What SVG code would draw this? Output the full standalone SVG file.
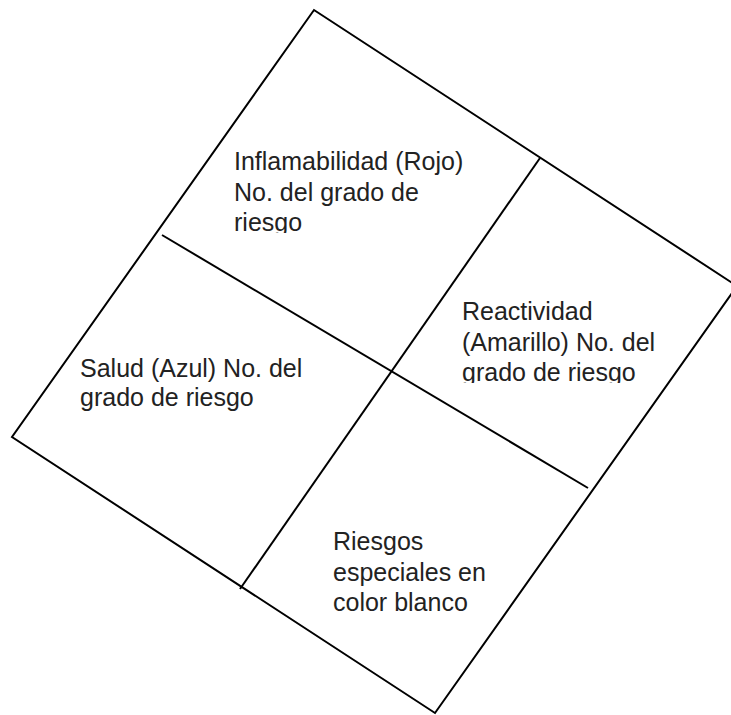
<svg xmlns="http://www.w3.org/2000/svg" width="731" height="715" viewBox="0 0 731 715">
<style>
.edge{fill:none;stroke:#000;stroke-width:2;stroke-linejoin:miter}
.lbl{font-family:"Liberation Sans",Arial,sans-serif;font-size:25px;fill:#222}
</style>
<defs>
<clipPath id="c1"><rect x="0" y="0" width="731" height="233"/></clipPath>
<clipPath id="c2"><rect x="0" y="0" width="731" height="383"/></clipPath>
</defs>
<rect width="731" height="715" fill="#fff"/>
<g id="connectors">
<polygon class="edge" points="314,10 737,286 435,713 12,437"/>
<line class="edge" x1="162" y1="235" x2="588" y2="488"/>
<line class="edge" x1="540" y1="158" x2="240" y2="589"/>
</g>
<g id="inflamabilidad">
<text class="lbl" x="234" y="170">Inflamabilidad (Rojo)</text>
<text class="lbl" x="234" y="201">No. del grado de</text>
<text class="lbl" x="234" y="231" clip-path="url(#c1)">riesgo</text>
</g>
<g id="reactividad">
<text class="lbl" x="462" y="320">Reactividad</text>
<text class="lbl" x="462" y="351">(Amarillo) No. del</text>
<text class="lbl" x="462" y="381" clip-path="url(#c2)">grado de riesgo</text>
</g>
<g id="salud">
<text class="lbl" x="80" y="377">Salud (Azul) No. del</text>
<text class="lbl" x="80" y="406">grado de riesgo</text>
</g>
<g id="especiales">
<text class="lbl" x="333" y="550">Riesgos</text>
<text class="lbl" x="333" y="581">especiales en</text>
<text class="lbl" x="333" y="611">color blanco</text>
</g>
</svg>
